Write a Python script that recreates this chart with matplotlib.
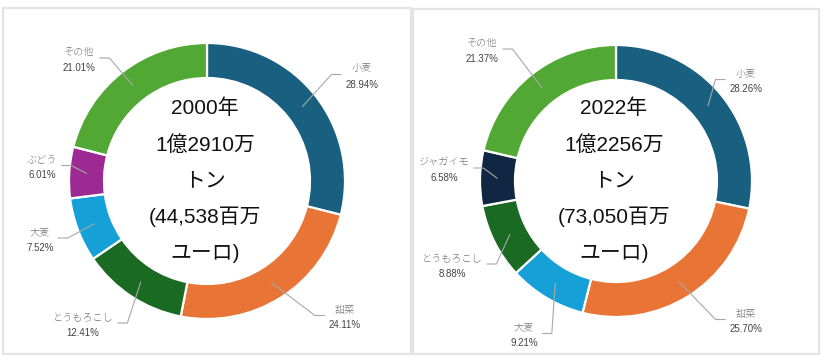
import matplotlib
matplotlib.use("Agg")
import matplotlib.pyplot as plt
from matplotlib.patches import Rectangle
import numpy as np

# ---------------- data ----------------
labels_2000 = ["小麦", "甜菜", "とうもろこし", "大麦", "ぶどう", "その他"]
values_2000 = [28.94, 24.11, 12.41, 7.52, 6.01, 21.01]
center_2000 = ["2000年", "1億2910万", "トン", "(44,538百万", "ユーロ)"]

labels_2022 = ["小麦", "甜菜", "大麦", "とうもろこし", "ジャガイモ", "その他"]
values_2022 = [28.26, 25.70, 9.21, 8.88, 6.58, 21.37]
center_2022 = ["2022年", "1億2256万", "トン", "(73,050百万", "ユーロ)"]

# ---------------- styles / layout ----------------
COLORS = {
    "小麦": "#185f80",
    "甜菜": "#e87436",
    "とうもろこし": "#1b6a24",
    "大麦": "#16a0d8",
    "ぶどう": "#9c2a92",
    "ジャガイモ": "#0f2743",
    "その他": "#52a834",
}
W, H = 828, 362
FONT_CJK = ["Noto Sans CJK JP", "DejaVu Sans"]
FONT_NUM = ["Liberation Sans", "DejaVu Sans"]
FONT_CENTER = ["Liberation Sans", "Noto Sans CJK JP", "DejaVu Sans"]

# label block centers (pixel coords, y from top)
label_pos_2000 = [(362, 76.5), (345, 317.5), (83, 325), (40, 240), (42, 167.5), (79, 60)]
label_pos_2022 = [(746, 81.5), (746, 321.5), (524, 335.5), (452, 266), (444, 170), (482, 51)]

charts = [
    dict(labels=labels_2000, values=values_2000, center=center_2000,
         cx=207, cy=181, R=138, pos=label_pos_2000, box=(3.5, 8, 411, 354)),
    dict(labels=labels_2022, values=values_2022, center=center_2022,
         cx=616, cy=181, R=136, pos=label_pos_2022, box=(413.5, 9, 819, 354)),
]
RING = 35

fig = plt.figure(figsize=(W / 100, H / 100), dpi=100)
ax = fig.add_axes([0, 0, 1, 1])

def Y(y):
    return H - y

text_items = []
for ch in charts:
    x0, y0, x1, y1 = ch["box"]
    ax.add_patch(Rectangle((x0, Y(y1)), x1 - x0, y1 - y0, fill=False,
                           edgecolor="#e4e4e4", linewidth=1.6, zorder=0))
    cx, cy, R = ch["cx"], Y(ch["cy"]), ch["R"]
    cols = [COLORS[l] for l in ch["labels"]]
    ax.pie(ch["values"], colors=cols, startangle=90, counterclock=False,
           center=(cx, cy), radius=R,
           wedgeprops=dict(width=RING, edgecolor="white", linewidth=1.6))
    # center text
    for i, line in enumerate(ch["center"]):
        ax.text(cx - 2, cy + (2 - i) * 36.2, line, ha="center", va="center",
                fontsize=15, family=FONT_CENTER, color="#111111")
    # labels
    total = sum(ch["values"])
    cum = 0.0
    for lab, val, (lx, ly) in zip(ch["labels"], ch["values"], ch["pos"]):
        mid = (cum + val / 2) / total * 2 * np.pi
        cum += val
        rm = R - RING / 2
        sx, sy = cx + rm * np.sin(mid), cy + rm * np.cos(mid)
        spaced = "\u2009".join(lab) if len(lab) > 2 else lab
        t1 = ax.text(lx, Y(ly - 7.5), lab, ha="center", va="center",
                     fontsize=7.3, family=FONT_CJK, fontweight="light",
                     color="#777777")
        t2 = ax.text(lx, Y(ly + 8), f"{val:.2f}%", ha="center", va="center",
                     fontsize=7, family=FONT_NUM, color="#444444")
        text_items.append((t1, t2, lx, ly, sx, sy, cx))

ax.set_xlim(0, W)
ax.set_ylim(0, H)
ax.set_aspect("equal")
ax.axis("off")

fig.canvas.draw()
renderer = fig.canvas.get_renderer()
inv = ax.transData.inverted()
for t1, t2, lx, ly, sx, sy, cx in text_items:
    b1 = t1.get_window_extent(renderer)
    b2 = t2.get_window_extent(renderer)
    left = inv.transform((min(b1.x0, b2.x0), 0))[0]
    right = inv.transform((max(b1.x1, b2.x1), 0))[0]
    hy = Y(ly - 2)
    if lx > cx:
        ex = left - 4
        elb = ex - 10
    else:
        ex = right + 4
        elb = ex + 10
    ax.plot([sx, elb, ex], [sy, hy, hy], color="#a8a8a8", linewidth=0.8,
            solid_capstyle="butt", zorder=5)

fig.savefig("out.png", dpi=100)
